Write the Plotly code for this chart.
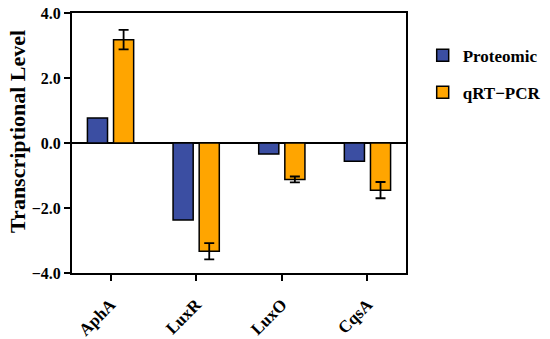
import plotly.graph_objects as go

genes = ["AphA", "LuxR", "LuxO", "CqsA"]
proteomic = [0.77, -2.37, -0.34, -0.56]
qrtpcr = [3.18, -3.33, -1.12, -1.45]
qrtpcr_err = [0.3, 0.25, 0.09, 0.25]
ytick_vals = [-4, -2, 0, 2, 4]
ytick_text = ["\u22124.0", "\u22122.0", "0.0", "2.0", "4.0"]
y_title = "Transcriptional Level"

FONT = "Liberation Serif"

fig = go.Figure()
fig.add_trace(go.Bar(
    x=genes, y=proteomic, name="<b>Proteomic</b>", legendgroup="a",
    marker=dict(color="#3B4EA2", line=dict(color="black", width=1.5)),
))
fig.add_trace(go.Bar(
    x=genes, y=qrtpcr, name="<b>qRT\u2212PCR</b>", legendgroup="b",
    marker=dict(color="#FFA500", line=dict(color="black", width=1.5)),
    error_y=dict(type="data", array=qrtpcr_err, visible=True,
                 color="black", thickness=1.8, width=5),
))

fig.update_layout(
    width=550, height=339,
    barmode="group", bargap=0.39, bargroupgap=0.23,
    plot_bgcolor="white", paper_bgcolor="white",
    margin=dict(l=72, r=144, t=13, b=66, autoexpand=False),
    font=dict(family=FONT, color="black"),
    legend=dict(x=1.05, y=0.905, xanchor="left", yanchor="top",
                font=dict(family=FONT, size=17, color="black"),
                tracegroupgap=12, itemwidth=30),
)
fig.add_annotation(
    text="<b>" + y_title + "</b>", textangle=-90,
    xref="paper", yref="paper", x=-0.165, y=0.546,
    xanchor="center", yanchor="middle", showarrow=False,
    font=dict(family=FONT, size=22, color="black"),
)
fig.update_xaxes(
    range=[-0.45, 3.45], automargin=False,
    showline=True, linecolor="black", linewidth=2, mirror=True,
    ticks="outside", ticklen=6, tickwidth=2, tickcolor="black",
    tickangle=-45, ticklabelstandoff=7,
    tickfont=dict(family=FONT, size=17, color="black", weight="bold"),
    showgrid=False,
)
fig.update_yaxes(
    range=[-4, 4], automargin=False,
    tickvals=ytick_vals, ticktext=ytick_text, ticklabeloverflow="allow",
    showline=True, linecolor="black", linewidth=2, mirror=True,
    ticks="outside", ticklen=6, tickwidth=2, tickcolor="black",
    tickfont=dict(family=FONT, size=16, color="black", weight="bold"),
    showgrid=False,
    zeroline=True, zerolinecolor="black", zerolinewidth=2,
)

fig.write_html("out.html", config={"displayModeBar": False},
               post_script="document.body.style.margin='0px';")
